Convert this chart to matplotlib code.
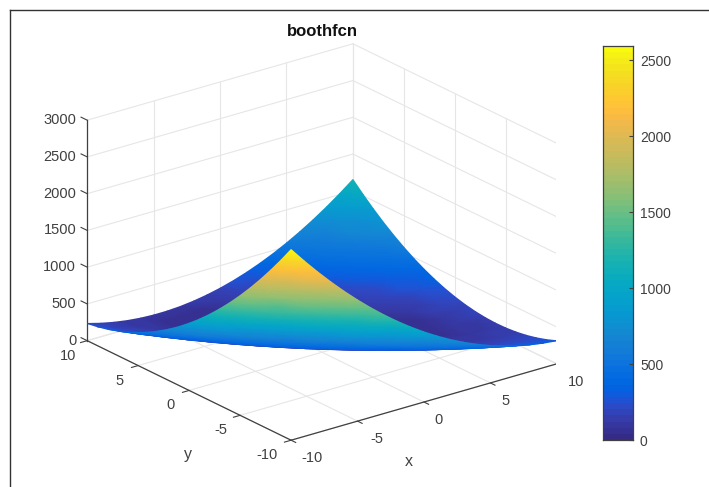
import matplotlib
matplotlib.use("Agg")
import matplotlib.pyplot as plt
import numpy as np
from matplotlib.colors import ListedColormap, Normalize
from matplotlib.lines import Line2D
from matplotlib.tri import Triangulation
from mpl_toolkits.mplot3d import proj3d

plt.rcParams['font.family'] = ['Liberation Sans', 'DejaVu Sans']

W, H = 709, 487

x_vals = list(range(-10, 11))
y_vals = list(range(-10, 11))

# rows run y = -10 .. 10, columns x = -10 .. 10
z_rows = [
    [2594, 2385, 2186, 1997, 1818, 1649, 1490, 1341, 1202, 1073, 954, 845, 746, 657, 578, 509, 450, 401, 362, 333, 314],
    [2381, 2180, 1989, 1808, 1637, 1476, 1325, 1184, 1053, 932, 821, 720, 629, 548, 477, 416, 365, 324, 293, 272, 261],
    [2178, 1985, 1802, 1629, 1466, 1313, 1170, 1037, 914, 801, 698, 605, 522, 449, 386, 333, 290, 257, 234, 221, 218],
    [1985, 1800, 1625, 1460, 1305, 1160, 1025, 900, 785, 680, 585, 500, 425, 360, 305, 260, 225, 200, 185, 180, 185],
    [1802, 1625, 1458, 1301, 1154, 1017, 890, 773, 666, 569, 482, 405, 338, 281, 234, 197, 170, 153, 146, 149, 162],
    [1629, 1460, 1301, 1152, 1013, 884, 765, 656, 557, 468, 389, 320, 261, 212, 173, 144, 125, 116, 117, 128, 149],
    [1466, 1305, 1154, 1013, 882, 761, 650, 549, 458, 377, 306, 245, 194, 153, 122, 101, 90, 89, 98, 117, 146],
    [1313, 1160, 1017, 884, 761, 648, 545, 452, 369, 296, 233, 180, 137, 104, 81, 68, 65, 72, 89, 116, 153],
    [1170, 1025, 890, 765, 650, 545, 450, 365, 290, 225, 170, 125, 90, 65, 50, 45, 50, 65, 90, 125, 170],
    [1037, 900, 773, 656, 549, 452, 365, 288, 221, 164, 117, 80, 53, 36, 29, 32, 45, 68, 101, 144, 197],
    [914, 785, 666, 557, 458, 369, 290, 221, 162, 113, 74, 45, 26, 17, 18, 29, 50, 81, 122, 173, 234],
    [801, 680, 569, 468, 377, 296, 225, 164, 113, 72, 41, 20, 9, 8, 17, 36, 65, 104, 153, 212, 281],
    [698, 585, 482, 389, 306, 233, 170, 117, 74, 41, 18, 5, 2, 9, 26, 53, 90, 137, 194, 261, 338],
    [605, 500, 405, 320, 245, 180, 125, 80, 45, 20, 5, 0, 5, 20, 45, 80, 125, 180, 245, 320, 405],
    [522, 425, 338, 261, 194, 137, 90, 53, 26, 9, 2, 5, 18, 41, 74, 117, 170, 233, 306, 389, 482],
    [449, 360, 281, 212, 153, 104, 65, 36, 17, 8, 9, 20, 41, 72, 113, 164, 225, 296, 377, 468, 569],
    [386, 305, 234, 173, 122, 81, 50, 29, 18, 17, 26, 45, 74, 113, 162, 221, 290, 369, 458, 557, 666],
    [333, 260, 197, 144, 101, 68, 45, 32, 29, 36, 53, 80, 117, 164, 221, 288, 365, 452, 549, 656, 773],
    [290, 225, 170, 125, 90, 65, 50, 45, 50, 65, 90, 125, 170, 225, 290, 365, 450, 545, 650, 765, 890],
    [257, 200, 153, 116, 89, 72, 65, 68, 81, 104, 137, 180, 233, 296, 369, 452, 545, 648, 761, 884, 1017],
    [234, 185, 146, 117, 98, 89, 90, 101, 122, 153, 194, 245, 306, 377, 458, 549, 650, 761, 882, 1013, 1154],
]

xy_ticks = [-10, -5, 0, 5, 10]
z_ticks = [0, 500, 1000, 1500, 2000, 2500, 3000]
cbar_ticks = [0, 500, 1000, 1500, 2000, 2500]
z_top = 3000
c_max = 2594

# parula, the MATLAB default
parula = ListedColormap([
    (0.2081, 0.1663, 0.5292), (0.2116, 0.1898, 0.5777), (0.2123, 0.2138, 0.6270), (0.2081, 0.2386, 0.6771),
    (0.1959, 0.2645, 0.7279), (0.1707, 0.2919, 0.7792), (0.1253, 0.3242, 0.8303), (0.0591, 0.3598, 0.8683),
    (0.0117, 0.3875, 0.8820), (0.0060, 0.4086, 0.8828), (0.0165, 0.4266, 0.8786), (0.0329, 0.4430, 0.8720),
    (0.0498, 0.4586, 0.8641), (0.0629, 0.4737, 0.8554), (0.0723, 0.4887, 0.8467), (0.0779, 0.5040, 0.8384),
    (0.0793, 0.5200, 0.8312), (0.0749, 0.5375, 0.8263), (0.0641, 0.5570, 0.8240), (0.0488, 0.5772, 0.8228),
    (0.0343, 0.5966, 0.8199), (0.0265, 0.6137, 0.8135), (0.0239, 0.6287, 0.8038), (0.0231, 0.6418, 0.7913),
    (0.0228, 0.6535, 0.7768), (0.0267, 0.6642, 0.7607), (0.0384, 0.6743, 0.7436), (0.0590, 0.6838, 0.7254),
    (0.0843, 0.6928, 0.7062), (0.1133, 0.7015, 0.6859), (0.1453, 0.7098, 0.6646), (0.1801, 0.7177, 0.6424),
    (0.2178, 0.7250, 0.6193), (0.2586, 0.7317, 0.5954), (0.3022, 0.7376, 0.5712), (0.3482, 0.7424, 0.5473),
    (0.3953, 0.7459, 0.5244), (0.4420, 0.7481, 0.5033), (0.4871, 0.7491, 0.4840), (0.5300, 0.7491, 0.4661),
    (0.5709, 0.7485, 0.4494), (0.6099, 0.7473, 0.4337), (0.6473, 0.7456, 0.4188), (0.6834, 0.7435, 0.4044),
    (0.7184, 0.7411, 0.3905), (0.7525, 0.7384, 0.3768), (0.7858, 0.7356, 0.3633), (0.8185, 0.7327, 0.3498),
    (0.8507, 0.7299, 0.3360), (0.8824, 0.7274, 0.3217), (0.9139, 0.7258, 0.3063), (0.9450, 0.7261, 0.2886),
    (0.9739, 0.7314, 0.2666), (0.9938, 0.7455, 0.2403), (0.9990, 0.7653, 0.2164), (0.9955, 0.7861, 0.1967),
    (0.9880, 0.8066, 0.1794), (0.9789, 0.8271, 0.1633), (0.9697, 0.8481, 0.1475), (0.9626, 0.8705, 0.1309),
    (0.9589, 0.8949, 0.1132), (0.9598, 0.9218, 0.0948), (0.9661, 0.9514, 0.0755), (0.9763, 0.9831, 0.0538),
])

AXIS_COL = '#404040'
GRID_COL = '#e6e6e6'
TEXT_COL = '#404040'
FS = 10.5


def fig_box(left, top, right, bottom):
    # pixel box, measured from the top left of the picture
    return [left / W, 1 - bottom / H, (right - left) / W, (bottom - top) / H]


fig = plt.figure(figsize=(W / 100, H / 100), dpi=100)

# square 3d axes placed so the projected box lands on the reference corners
S = 480
box = fig_box(322 - 0.5135 * S, 242 + 0.5135 * S - S, 322 - 0.5135 * S + S, 242 + 0.5135 * S)
ax = fig.add_axes(box, projection='3d', proj_type='ortho')
ax.view_init(elev=22, azim=-127.5)
ax.set_box_aspect((1, 1, 0.71), zoom=1.072)
ax.set_xlim(-10, 10)
ax.set_ylim(-10, 10)
ax.set_zlim(0, z_top)
ax.set_axis_off()
ax.patch.set_alpha(0)
ax.computed_zorder = False

# back walls and floor
for t in xy_ticks:
    ax.plot([t, t], [-10, 10], [0, 0], color=GRID_COL, lw=0.8, zorder=1)
    ax.plot([-10, 10], [t, t], [0, 0], color=GRID_COL, lw=0.8, zorder=1)
    ax.plot([t, t], [10, 10], [0, z_top], color=GRID_COL, lw=0.8, zorder=1)
    ax.plot([10, 10], [t, t], [0, z_top], color=GRID_COL, lw=0.8, zorder=1)
for t in z_ticks:
    ax.plot([-10, 10], [10, 10], [t, t], color=GRID_COL, lw=0.8, zorder=1)
    ax.plot([10, 10], [-10, 10], [t, t], color=GRID_COL, lw=0.8, zorder=1)

# axis lines and ticks
ax.plot([-10, 10], [-10, -10], [0, 0], color=AXIS_COL, lw=0.9, zorder=3)
ax.plot([-10, -10], [-10, 10], [0, 0], color=AXIS_COL, lw=0.9, zorder=3)
ax.plot([-10, -10], [10, 10], [0, z_top], color=AXIS_COL, lw=0.9, zorder=3)
for t in xy_ticks:
    ax.plot([t, t], [-10, -10.45], [0, 0], color=AXIS_COL, lw=0.8, zorder=3)
    ax.plot([-10, -10.5], [t, t], [0, 0], color=AXIS_COL, lw=0.8, zorder=3)
for t in z_ticks:
    ax.plot([-10, -10], [10, 10.6], [t, t], color=AXIS_COL, lw=0.8, zorder=3)

M = ax.get_proj()

# surface: gouraud triangles on a 2d overlay, far ones first, like shading interp
X, Y = np.meshgrid(x_vals, y_vals)
Z = np.array(z_rows, dtype=float)
u, v, depth = proj3d.proj_transform(X.ravel(), Y.ravel(), Z.ravel(), M)
n_cols = len(x_vals)
tris = []
for r in range(len(y_vals) - 1):
    for c in range(n_cols - 1):
        a = r * n_cols + c
        tris.append([a, a + 1, a + n_cols])
        tris.append([a + 1, a + n_cols + 1, a + n_cols])
tris = np.array(tris)
tris = tris[np.argsort(-depth[tris].mean(axis=1))]

over = fig.add_axes(box)
over.tripcolor(Triangulation(u, v, tris), Z.ravel(), shading='gouraud', cmap=parula, norm=Normalize(0, c_max))
over.set_xlim(ax.viewLim.intervalx)
over.set_ylim(ax.viewLim.intervaly)
over.set_axis_off()


def tick_label(txt, px, py, pz, dx, dy, ha='center'):
    tu, tv, _ = proj3d.proj_transform(px, py, pz, M)
    over.annotate(txt, (tu, tv), xytext=(dx, dy), textcoords='offset pixels', ha=ha, va='center',
                  fontsize=FS, color=TEXT_COL, annotation_clip=False)


x_label_dx = [21, 19, 15, 15, 19]
y_label_dx = [-24, -19, -19, -19, -19]
for t, dx_x, dx_y in zip(xy_ticks, x_label_dx, y_label_dx):
    tick_label(str(t), t, -10, 0, dx_x, -18)
    tick_label(str(t), -10, t, 0, dx_y, -15)
for t in z_ticks:
    tick_label(str(t), -10, 10, t, -11, 0, ha='right')

fig.text(322 / W, 1 - 32 / H, 'boothfcn', ha='center', va='center', fontsize=12, fontweight='bold', color='#111111')
fig.text(409 / W, 1 - 461 / H, 'x', ha='center', va='center', fontsize=11.5, color=TEXT_COL)
fig.text(188 / W, 1 - 455 / H, 'y', ha='center', va='center', fontsize=11.5, color=TEXT_COL)

# colorbar
cax = fig.add_axes(fig_box(603, 46, 633, 440))
cax.imshow(np.linspace(c_max, 0, 64)[:, None], cmap=parula, norm=Normalize(0, c_max), aspect='auto',
           extent=(0, 1, 0, c_max), interpolation='nearest')
cax.set_xticks([])
cax.set_yticks(cbar_ticks)
cax.yaxis.tick_right()
cax.tick_params(axis='y', direction='in', length=3, width=0.8, color=AXIS_COL, labelsize=FS - 0.5,
                labelcolor=TEXT_COL, pad=5)
for s in cax.spines.values():
    s.set_color(AXIS_COL)
    s.set_linewidth(0.9)

# screenshot edge
fig.add_artist(Line2D([9.5 / W, 9.5 / W], [0, 1 - 10 / H], color='#333333', lw=1))
fig.add_artist(Line2D([9.5 / W, 1], [1 - 10 / H, 1 - 10 / H], color='#333333', lw=1))

fig.savefig('out.png', dpi=100)
